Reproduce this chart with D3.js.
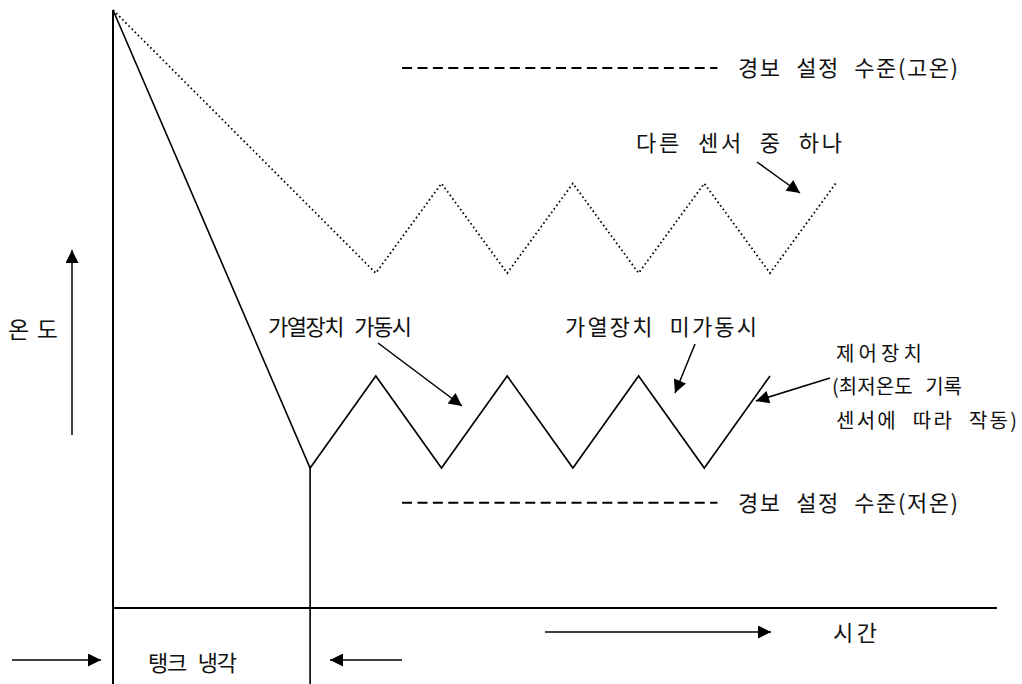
<!DOCTYPE html>
<html>
<head>
<meta charset="utf-8">
<script src="https://cdn.jsdelivr.net/npm/d3@7"></script>
<style>
  html, body { margin: 0; padding: 0; background: #fff; }
  svg { display: block; }
  text { font-family: "Noto Sans CJK KR", sans-serif; fill: #111; word-spacing: 8px; }
</style>
</head>
<body>
<div id="chart"></div>
<script>
// time in half-cycle units, temperature in arbitrary units (0 = time axis, 100 = start)
const controlTime = [0, 3, 4, 5, 6, 7, 8, 9, 10];
const controlTemp = [100, 23.4, 38.8, 23.4, 38.8, 23.4, 38.8, 23.4, 38.8];
const otherTime = [0, 4, 5, 6, 7, 8, 9, 10, 11];
const otherTemp = [100, 56, 71, 56, 71, 56, 71, 56, 71];
const alarmLevels = [90.3, 17.6];
const alarmLabels = ["경보 설정 수준(고온)", "경보 설정 수준(저온)"];
const alarmSpan = [4.4, 9.2];
const coolingEnd = 3;

function renderChart(selector = "#chart") {
    const width = 1022;
    const height = 684;

    const svg = d3.select(selector).append("svg")
        .attr("width", width)
        .attr("height", height);

    const x = d3.scaleLinear().domain([0, 1]).range([113, 178.7]);
    const y = d3.scaleLinear().domain([0, 100]).range([608, 10]);

    const defs = svg.append("defs");
    defs.append("marker")
        .attr("id", "head")
        .attr("viewBox", "0 0 10 10")
        .attr("refX", 10).attr("refY", 5)
        .attr("markerUnits", "userSpaceOnUse")
        .attr("markerWidth", 16).attr("markerHeight", 13)
        .attr("orient", "auto")
        .append("path").attr("d", "M0,0 L10,5 L0,10 Z").attr("fill", "#000");

    const line = d3.line().x(d => x(d[0])).y(d => y(d[1]));

    // axes
    svg.append("line")
        .attr("x1", x(0)).attr("x2", x(0))
        .attr("y1", y(100)).attr("y2", height)
        .attr("stroke", "#000").attr("stroke-width", 2);
    svg.append("line")
        .attr("x1", x(0)).attr("x2", 997)
        .attr("y1", y(0)).attr("y2", y(0))
        .attr("stroke", "#000").attr("stroke-width", 2);

    // end of tank cooling
    svg.append("line")
        .attr("x1", x(coolingEnd)).attr("x2", x(coolingEnd))
        .attr("y1", y(controlTemp[1])).attr("y2", height)
        .attr("stroke", "#000").attr("stroke-width", 1.6);

    // alarm levels
    svg.selectAll(".alarm")
        .data(alarmLevels)
        .join("line")
        .attr("class", "alarm")
        .attr("x1", x(alarmSpan[0])).attr("x2", x(alarmSpan[1]))
        .attr("y1", d => y(d)).attr("y2", d => y(d))
        .attr("stroke", "#000").attr("stroke-width", 1.8)
        .attr("stroke-dasharray", "10,5.4");
    svg.selectAll(".alarm-label")
        .data(alarmLevels)
        .join("text")
        .attr("class", "alarm-label")
        .attr("x", 738)
        .attr("y", d => y(d) + 8)
        .attr("font-size", 22)
        .attr("textLength", 220)
        .attr("lengthAdjust", "spacing")
        .text((d, i) => alarmLabels[i]);

    // other sensor (dotted)
    svg.append("path")
        .datum(otherTime.map((t, i) => [t, otherTemp[i]]))
        .attr("d", line)
        .attr("fill", "none")
        .attr("stroke", "#000").attr("stroke-width", 1.8)
        .attr("stroke-dasharray", "1.6,2.8");

    // control sensor (solid)
    svg.append("path")
        .datum(controlTime.map((t, i) => [t, controlTemp[i]]))
        .attr("d", line)
        .attr("fill", "none")
        .attr("stroke", "#000").attr("stroke-width", 1.6);

    // annotation arrows
    const arrows = [
        [757, 162, 800, 193],
        [378, 343, 462, 406],
        [695, 344, 675, 393],
        [830, 378, 756, 401],
        [72, 435, 72, 250],
        [545, 632, 771, 632],
        [12, 660, 101, 660],
        [402, 660, 330, 660]
    ];
    svg.selectAll(".arrow")
        .data(arrows)
        .join("line")
        .attr("class", "arrow")
        .attr("x1", d => d[0]).attr("y1", d => d[1])
        .attr("x2", d => d[2]).attr("y2", d => d[3])
        .attr("stroke", "#000").attr("stroke-width", 1.5)
        .attr("marker-end", "url(#head)");

    // text, x, baseline y, width, size
    const labels = [
        ["다른 센서 중 하나", 636, 151, 206, 22],
        ["가열장치 가동시", 268, 335, 144, 22],
        ["가열장치 미가동시", 565, 335, 192, 22],
        ["제어장치", 836, 361, 86, 20],
        ["(최저온도 기록", 832, 394, 130, 20],
        ["센서에 따라 작동)", 836, 428, 181, 20],
        ["온도", 8, 338, 50, 23],
        ["시간", 833, 641, 44, 22],
        ["탱크 냉각", 148, 671, 89, 22]
    ];
    svg.selectAll(".label")
        .data(labels)
        .join("text")
        .attr("class", "label")
        .attr("x", d => d[1]).attr("y", d => d[2])
        .attr("font-size", d => d[4])
        .attr("textLength", d => d[3])
        .attr("lengthAdjust", "spacing")
        .text(d => d[0]);
}

renderChart();
</script>
</body>
</html>
